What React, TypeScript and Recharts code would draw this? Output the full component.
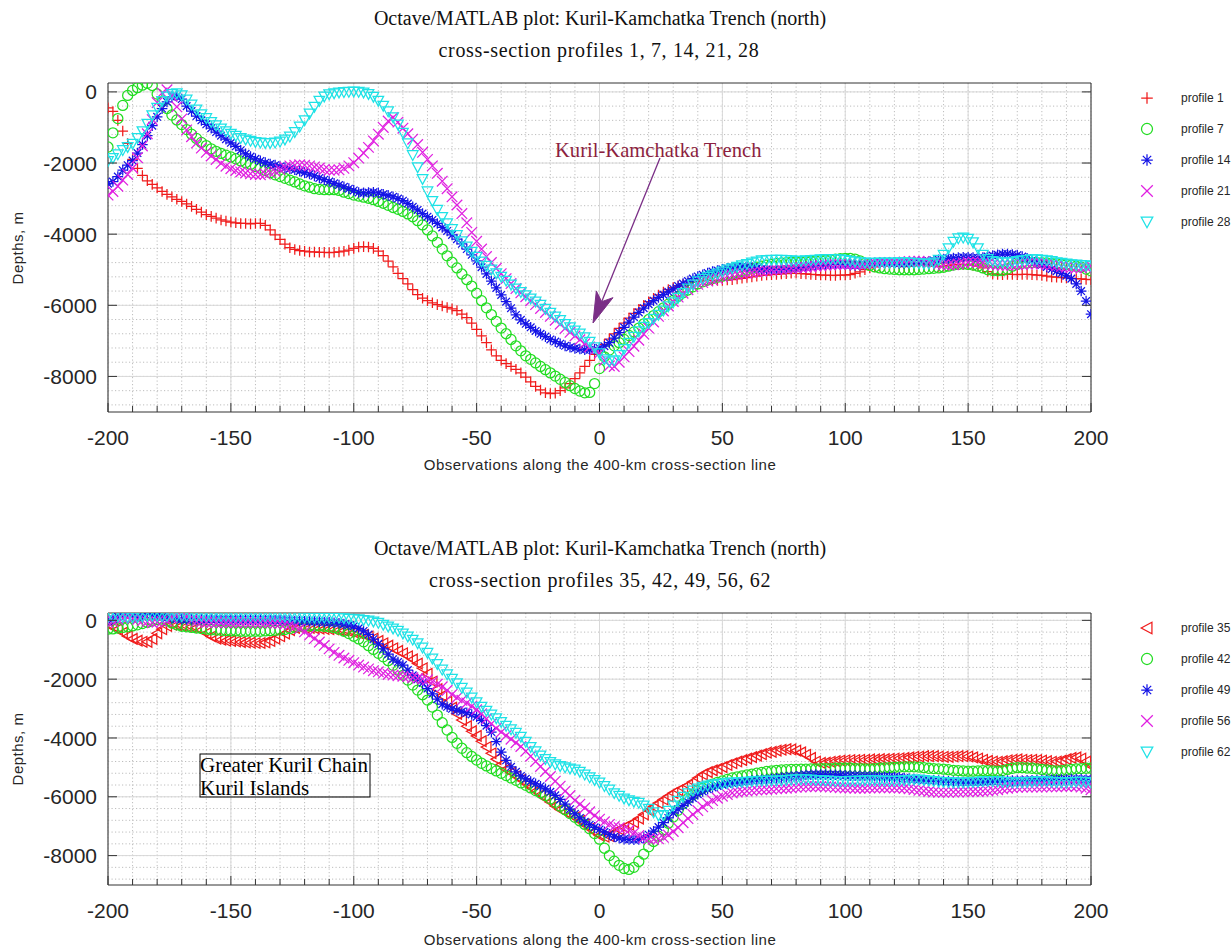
import React from 'react';
import { ScatterChart, Scatter, XAxis, YAxis, CartesianGrid } from 'recharts';

// observation points along the 400-km cross-section line, km
const distanceKm = [
  -200, -198, -196, -194, -192, -190, -188, -186, -184, -182,
  -180, -178, -176, -174, -172, -170, -168, -166, -164, -162,
  -160, -158, -156, -154, -152, -150, -148, -146, -144, -142,
  -140, -138, -136, -134, -132, -130, -128, -126, -124, -122,
  -120, -118, -116, -114, -112, -110, -108, -106, -104, -102,
  -100, -98, -96, -94, -92, -90, -88, -86, -84, -82,
  -80, -78, -76, -74, -72, -70, -68, -66, -64, -62,
  -60, -58, -56, -54, -52, -50, -48, -46, -44, -42,
  -40, -38, -36, -34, -32, -30, -28, -26, -24, -22,
  -20, -18, -16, -14, -12, -10, -8, -6, -4, -2,
  0, 2, 4, 6, 8, 10, 12, 14, 16, 18,
  20, 22, 24, 26, 28, 30, 32, 34, 36, 38,
  40, 42, 44, 46, 48, 50, 52, 54, 56, 58,
  60, 62, 64, 66, 68, 70, 72, 74, 76, 78,
  80, 82, 84, 86, 88, 90, 92, 94, 96, 98,
  100, 102, 104, 106, 108, 110, 112, 114, 116, 118,
  120, 122, 124, 126, 128, 130, 132, 134, 136, 138,
  140, 142, 144, 146, 148, 150, 152, 154, 156, 158,
  160, 162, 164, 166, 168, 170, 172, 174, 176, 178,
  180, 182, 184, 186, 188, 190, 192, 194, 196, 198,
  200,
];

// ---- upper panel: profiles 1, 7, 14, 21, 28 (depth, m)
const profile1 = [
  -450, -550, -800, -1100, -1450, -1900, -2150, -2350, -2500, -2600,
  -2700, -2800, -2880, -2950, -3020, -3080, -3150, -3220, -3300, -3380,
  -3450, -3500, -3550, -3600, -3630, -3660, -3680, -3700, -3700, -3710,
  -3700, -3700, -3750, -3880, -4020, -4150, -4280, -4380, -4430, -4460,
  -4480, -4500, -4500, -4510, -4510, -4520, -4510, -4500, -4480, -4450,
  -4400, -4360, -4350, -4360, -4400, -4480, -4600, -4760, -4920, -5100,
  -5250, -5400, -5560, -5700, -5800, -5870, -5930, -5980, -6020, -6060,
  -6100, -6150, -6250, -6350, -6500, -6680, -6860, -7050, -7250, -7420,
  -7550, -7640, -7720, -7800, -7900, -8020, -8150, -8280, -8380, -8460,
  -8480, -8470, -8400, -8320, -8200, -8060, -7900, -7720, -7550, -7380,
  -7250, -7100, -6950, -6800, -6650, -6500, -6360, -6230, -6110, -6000,
  -5900, -5800, -5710, -5630, -5560, -5500, -5450, -5410, -5380, -5350,
  -5330, -5310, -5300, -5300, -5300, -5300, -5290, -5280, -5260, -5240,
  -5220, -5200, -5180, -5160, -5150, -5140, -5130, -5120, -5110, -5100,
  -5100, -5110, -5120, -5130, -5140, -5150, -5150, -5160, -5160, -5150,
  -5150, -5140, -5100, -5060, -5000, -4950, -4920, -4900, -4890, -4880,
  -4890, -4900, -4910, -4900, -4890, -4880, -4880, -4890, -4900, -4910,
  -4900, -4880, -4860, -4850, -4850, -4860, -4880, -4900, -4950, -5050,
  -5120, -5130, -5140, -5130, -5130, -5140, -5130, -5130, -5140, -5150,
  -5160, -5180, -5200, -5210, -5220, -5230, -5240, -5250, -5260, -5270,
  -5280,
];
const profile7 = [
  -1550, -1150, -750, -380, -100, 40, 120, 190, 240, 180,
  -60, -270, -470, -650, -790, -920, -1060, -1190, -1310, -1420,
  -1510, -1600, -1670, -1730, -1780, -1830, -1880, -1940, -1990, -2040,
  -2100, -2150, -2210, -2270, -2330, -2380, -2430, -2480, -2530, -2590,
  -2640, -2680, -2720, -2740, -2750, -2750, -2750, -2770, -2820, -2860,
  -2900, -2930, -2960, -2990, -3030, -3080, -3130, -3190, -3250, -3300,
  -3360, -3430, -3510, -3620, -3740, -3880, -4050, -4230, -4420, -4610,
  -4790, -4950, -5120, -5280, -5460, -5660, -5870, -6070, -6260, -6450,
  -6640, -6800, -6960, -7140, -7280, -7420, -7520, -7620, -7720, -7810,
  -7900, -7990, -8080, -8170, -8260, -8340, -8410, -8460, -8450, -8200,
  -7780, -7450, -7260, -7140, -7050, -6960, -6850, -6750, -6640, -6520,
  -6400, -6290, -6180, -6070, -5970, -5860, -5750, -5650, -5570, -5480,
  -5400, -5340, -5290, -5250, -5210, -5180, -5150, -5120, -5080, -5040,
  -5000, -4960, -4930, -4900, -4870, -4850, -4830, -4810, -4800, -4790,
  -4780, -4780, -4770, -4760, -4750, -4740, -4730, -4720, -4700, -4690,
  -4680, -4680, -4700, -4750, -4820, -4880, -4920, -4950, -4970, -4980,
  -4990, -5000, -5000, -5000, -5000, -4990, -4980, -4970, -4960, -4950,
  -4930, -4900, -4870, -4850, -4840, -4850, -4870, -4900, -4950, -5000,
  -5020, -5030, -5020, -4980, -4900, -4850, -4820, -4810, -4800, -4800,
  -4800, -4810, -4820, -4830, -4840, -4850, -4870, -4900, -4930, -4980,
  -5030,
];
const profile14 = [
  -2580, -2520, -2380, -2200, -2060, -1930, -1720, -1480, -1230, -950,
  -700, -470, -280, -140, -120, -200, -400, -540, -680, -800,
  -910, -1020, -1130, -1230, -1330, -1430, -1530, -1640, -1740, -1820,
  -1880, -1940, -1990, -2030, -2060, -2100, -2130, -2160, -2190, -2230,
  -2270, -2310, -2360, -2420, -2470, -2520, -2570, -2620, -2670, -2720,
  -2770, -2830, -2840, -2830, -2820, -2840, -2880, -2910, -2950, -3000,
  -3060, -3140, -3230, -3320, -3420, -3510, -3600, -3700, -3810, -3910,
  -4020, -4140, -4270, -4420, -4580, -4750, -4930, -5120, -5320, -5510,
  -5710, -5900, -6080, -6270, -6410, -6520, -6620, -6720, -6800, -6880,
  -6960, -7020, -7080, -7140, -7180, -7210, -7230, -7250, -7250, -7240,
  -7200, -7150, -7050, -6920, -6770, -6620, -6470, -6330, -6200, -6080,
  -5970, -5870, -5780, -5700, -5620, -5540, -5460, -5390, -5320, -5250,
  -5190, -5140, -5090, -5050, -5020, -4990, -4960, -4930, -4910, -4910,
  -4920, -4940, -4960, -4980, -4990, -5000, -5000, -4990, -4980, -4970,
  -4960, -4940, -4920, -4900, -4880, -4870, -4860, -4850, -4850, -4850,
  -4860, -4870, -4880, -4870, -4850, -4830, -4810, -4800, -4800, -4800,
  -4810, -4820, -4820, -4810, -4800, -4790, -4780, -4760, -4740, -4720,
  -4700, -4680, -4670, -4660, -4650, -4650, -4660, -4670, -4660, -4630,
  -4600, -4580, -4560, -4560, -4570, -4590, -4630, -4680, -4740, -4800,
  -4860, -4920, -4980, -5040, -5100, -5170, -5250, -5400, -5600, -5880,
  -6250,
];
const profile21 = [
  -2900, -2800, -2650, -2480, -2320, -2140, -1850, -1520, -1180, -780,
  -300, -30, 60, -120, -420, -760, -1070, -1260, -1440, -1580,
  -1700, -1800, -1900, -2010, -2090, -2160, -2210, -2250, -2280, -2300,
  -2320, -2330, -2310, -2270, -2230, -2180, -2120, -2080, -2060, -2050,
  -2060, -2080, -2110, -2140, -2180, -2200, -2200, -2190, -2150, -2080,
  -1990, -1860, -1720, -1560, -1380, -1190, -1000, -820, -720, -850,
  -1020, -1180, -1330, -1480, -1700, -1900, -2080, -2290, -2510, -2720,
  -2950, -3180, -3420, -3680, -3950, -4200, -4420, -4630, -4800, -4960,
  -5110, -5250, -5390, -5530, -5650, -5760, -5870, -5980, -6090, -6200,
  -6310, -6420, -6530, -6650, -6760, -6860, -6970, -7080, -7170, -7260,
  -7340, -7550, -7700, -7720, -7600, -7450, -7300, -7150, -6980, -6810,
  -6640, -6470, -6310, -6160, -6020, -5890, -5770, -5660, -5560, -5480,
  -5410, -5360, -5320, -5290, -5250, -5200, -5170, -5150, -5130, -5110,
  -5100, -5080, -5060, -5050, -5030, -5010, -5000, -4990, -4980, -4960,
  -4950, -4940, -4930, -4920, -4900, -4890, -4880, -4870, -4860, -4850,
  -4850, -4850, -4850, -4850, -4840, -4830, -4820, -4810, -4800, -4800,
  -4800, -4790, -4780, -4770, -4760, -4760, -4770, -4790, -4810, -4840,
  -4860, -4870, -4860, -4840, -4810, -4790, -4780, -4790, -4810, -4840,
  -4860, -4870, -4880, -4880, -4870, -4860, -4850, -4840, -4830, -4830,
  -4840, -4850, -4870, -4890, -4910, -4930, -4940, -4950, -4950, -4930,
  -4900,
];
const profile28 = [
  -1950, -1860, -1760, -1640, -1550, -1460, -1300, -1110, -900, -660,
  -450, -260, -130, -60, -40, -100, -220, -360, -500, -630,
  -740, -850, -940, -1030, -1110, -1180, -1240, -1300, -1340, -1380,
  -1410, -1430, -1440, -1440, -1430, -1400, -1340, -1260, -1130, -980,
  -800, -610, -420, -250, -130, -70, -40, -20, -10, 0,
  10, 0, -20, -60, -140, -250, -390, -550, -720, -920,
  -1150, -1450, -1780, -2120, -2450, -2800, -3070, -3320, -3520, -3700,
  -3860, -4030, -4200, -4350, -4500, -4640, -4770, -4890, -5000, -5100,
  -5200, -5310, -5420, -5530, -5630, -5720, -5810, -5900, -5990, -6100,
  -6210, -6320, -6420, -6530, -6620, -6710, -6800, -6900, -7030, -7180,
  -7350, -7520, -7580, -7550, -7400, -7230, -7060, -6890, -6730, -6610,
  -6500, -6380, -6270, -6150, -6030, -5920, -5790, -5660, -5530, -5420,
  -5330, -5260, -5200, -5160, -5110, -5050, -5000, -4960, -4920, -4880,
  -4840, -4800, -4770, -4740, -4730, -4720, -4720, -4720, -4730, -4740,
  -4750, -4750, -4740, -4730, -4720, -4710, -4700, -4700, -4700, -4710,
  -4730, -4750, -4770, -4790, -4800, -4810, -4810, -4800, -4800, -4800,
  -4800, -4790, -4790, -4800, -4810, -4820, -4830, -4830, -4800, -4720,
  -4580, -4400, -4220, -4120, -4100, -4130, -4230, -4400, -4580, -4700,
  -4760, -4780, -4790, -4790, -4780, -4760, -4740, -4720, -4710, -4710,
  -4720, -4740, -4760, -4790, -4810, -4830, -4850, -4860, -4870, -4880,
  -4890,
];

// ---- lower panel: profiles 35, 42, 49, 56, 62 (depth, m)
const profile35 = [
  -150, -200, -300, -420, -540, -630, -690, -730, -730, -630,
  -440, -300, -190, -150, -160, -180, -200, -220, -250, -330,
  -440, -550, -620, -660, -690, -700, -720, -740, -750, -760,
  -770, -770, -750, -700, -620, -540, -450, -330, -260, -240,
  -250, -260, -270, -280, -290, -300, -310, -330, -350, -380,
  -410, -440, -490, -550, -620, -700, -780, -860, -950, -1040,
  -1120, -1220, -1330, -1470, -1630, -1820, -2080, -2340, -2560, -2770,
  -2970, -3180, -3390, -3600, -3770, -3930, -4110, -4310, -4520, -4720,
  -4900, -5060, -5180, -5300, -5420, -5550, -5680, -5810, -5930, -6060,
  -6180, -6310, -6430, -6520, -6610, -6700, -6820, -6950, -7080, -7200,
  -7320, -7360, -7340, -7220, -7110, -7030, -6950, -6870, -6740, -6600,
  -6460, -6330, -6210, -6090, -5980, -5870, -5780, -5700, -5610, -5490,
  -5360, -5240, -5160, -5100, -5050, -4990, -4920, -4860, -4800, -4750,
  -4700, -4650, -4600, -4550, -4500, -4470, -4430, -4400, -4380, -4390,
  -4430, -4490, -4570, -4680, -4800, -4850, -4840, -4810, -4790, -4770,
  -4760, -4750, -4750, -4740, -4740, -4730, -4730, -4720, -4720, -4710,
  -4700, -4690, -4680, -4660, -4640, -4630, -4620, -4620, -4620, -4630,
  -4640, -4640, -4630, -4620, -4620, -4630, -4660, -4700, -4740, -4780,
  -4800, -4810, -4790, -4760, -4740, -4730, -4740, -4750, -4740, -4750,
  -4770, -4790, -4810, -4800, -4770, -4720, -4680, -4660, -4700, -4800,
  -4950,
];
const profile42 = [
  -300, -290, -260, -240, -220, -190, -150, -110, -70, -20,
  30, 40, -20, -90, -150, -200, -220, -240, -260, -280,
  -300, -320, -330, -340, -350, -360, -360, -370, -370, -370,
  -370, -370, -360, -350, -340, -330, -310, -280, -240, -200,
  -190, -190, -190, -190, -200, -220, -250, -300, -370, -450,
  -540, -630, -730, -860, -990, -1120, -1240, -1370, -1530, -1700,
  -1870, -2030, -2200, -2370, -2530, -2710, -2950, -3220, -3480, -3730,
  -3980, -4180, -4350, -4500, -4630, -4750, -4860, -4950, -5040, -5120,
  -5200, -5280, -5360, -5440, -5530, -5610, -5700, -5790, -5870, -5960,
  -6070, -6190, -6320, -6440, -6570, -6700, -6820, -6940, -7090, -7250,
  -7440, -7750, -8000, -8190, -8330, -8440, -8470, -8400, -8200, -7950,
  -7700, -7520, -7340, -7120, -6900, -6690, -6460, -6240, -6060, -5930,
  -5800, -5710, -5640, -5570, -5510, -5460, -5410, -5360, -5320, -5290,
  -5260, -5230, -5200, -5170, -5140, -5120, -5100, -5090, -5080, -5070,
  -5070, -5060, -5060, -5050, -5050, -5040, -5040, -5040, -5030, -5030,
  -5030, -5030, -5040, -5040, -5050, -5050, -5040, -5030, -5020, -5010,
  -5000, -4990, -4980, -4980, -4980, -4990, -5010, -5030, -5040, -5050,
  -5060, -5080, -5100, -5110, -5120, -5130, -5130, -5120, -5110, -5110,
  -5120, -5130, -5110, -5070, -5030, -5010, -5010, -5020, -5030, -5050,
  -5070, -5090, -5110, -5120, -5110, -5090, -5070, -5050, -5040, -5030,
  -5030,
];
const profile49 = [
  -30, 50, 130, 200, 240, 180, 120, 180, 250, 200,
  140, 110, 90, 70, 50, 40, 30, 30, 30, 30,
  30, 30, 30, 20, 20, 20, 20, 20, 20, 20,
  20, 20, 10, 10, 0, 0, -10, -10, -20, -20,
  -30, -40, -40, -50, -60, -70, -80, -100, -130, -160,
  -200, -270, -360, -480, -640, -800, -970, -1150, -1320, -1420,
  -1520, -1690, -1870, -2000, -2130, -2320, -2500, -2680, -2850, -2940,
  -3010, -3060, -3100, -3140, -3200, -3280, -3400, -3580, -3800, -4120,
  -4480, -4760, -4980, -5150, -5290, -5390, -5480, -5560, -5640, -5730,
  -5830, -5950, -6090, -6250, -6420, -6580, -6720, -6850, -6950, -7040,
  -7110, -7190, -7280, -7360, -7410, -7440, -7450, -7460, -7450, -7390,
  -7290, -7170, -7030, -6880, -6720, -6550, -6420, -6290, -6170, -6040,
  -5910, -5820, -5740, -5680, -5630, -5590, -5560, -5530, -5510, -5490,
  -5470, -5450, -5430, -5420, -5410, -5390, -5370, -5350, -5330, -5310,
  -5300, -5280, -5260, -5250, -5240, -5240, -5240, -5250, -5250, -5260,
  -5270, -5280, -5280, -5290, -5290, -5300, -5300, -5310, -5320, -5320,
  -5330, -5340, -5360, -5380, -5400, -5420, -5430, -5440, -5440, -5450,
  -5460, -5470, -5480, -5490, -5500, -5500, -5500, -5500, -5490, -5480,
  -5470, -5460, -5460, -5450, -5450, -5450, -5450, -5440, -5440, -5430,
  -5430, -5420, -5420, -5410, -5410, -5410, -5400, -5400, -5400, -5410,
  -5420,
];
const profile56 = [
  -80, -40, 20, 70, 90, 60, 30, -10, -50, -80,
  -60, -40, -20, 80, 200, 260, 130, 0, -40, -60,
  -70, -80, -80, -80, -80, -80, -80, -80, -80, -80,
  -80, -80, -80, -90, -100, -110, -130, -160, -210, -290,
  -390, -500, -620, -740, -850, -970, -1090, -1190, -1280, -1360,
  -1440, -1520, -1590, -1650, -1710, -1750, -1800, -1840, -1860, -1880,
  -1900, -1920, -1950, -1970, -1990, -2020, -2090, -2170, -2260, -2380,
  -2520, -2630, -2720, -2810, -2920, -3040, -3180, -3350, -3520, -3670,
  -3800, -3920, -4040, -4160, -4290, -4450, -4620, -4800, -4970, -5140,
  -5310, -5470, -5640, -5810, -5960, -6120, -6250, -6380, -6510, -6640,
  -6760, -6850, -6940, -7010, -7050, -7090, -7140, -7230, -7320, -7390,
  -7430, -7450, -7430, -7380, -7300, -7180, -7050, -6880, -6740, -6600,
  -6470, -6340, -6230, -6130, -6050, -5980, -5920, -5870, -5840, -5820,
  -5800, -5790, -5770, -5760, -5750, -5740, -5730, -5720, -5710, -5700,
  -5680, -5670, -5660, -5660, -5650, -5650, -5660, -5670, -5680, -5690,
  -5700, -5700, -5710, -5710, -5710, -5700, -5700, -5690, -5690, -5690,
  -5700, -5700, -5710, -5730, -5750, -5780, -5800, -5820, -5840, -5850,
  -5850, -5850, -5840, -5840, -5830, -5830, -5820, -5820, -5810, -5800,
  -5780, -5760, -5730, -5710, -5690, -5680, -5670, -5670, -5670, -5670,
  -5670, -5660, -5660, -5660, -5650, -5650, -5640, -5650, -5670, -5710,
  -5760,
];
const profile62 = [
  120, 130, 130, 110, 100, 100, 110, 130, 140, 150,
  150, 140, 150, 160, 150, 140, 150, 150, 160, 150,
  150, 140, 150, 150, 160, 150, 140, 150, 150, 150,
  150, 140, 140, 150, 140, 140, 130, 130, 120, 110,
  100, 100, 90, 90, 90, 90, 90, 80, 70, 50,
  40, 30, 10, -10, -40, -90, -150, -210, -280, -360,
  -450, -550, -660, -780, -930, -1110, -1300, -1490, -1680, -1840,
  -1990, -2140, -2300, -2460, -2630, -2790, -2940, -3080, -3210, -3330,
  -3460, -3590, -3710, -3830, -3960, -4130, -4310, -4460, -4600, -4720,
  -4820, -4900, -4960, -5000, -5040, -5080, -5150, -5250, -5340, -5430,
  -5520, -5640, -5760, -5880, -5970, -6060, -6120, -6170, -6210, -6300,
  -6410, -6530, -6640, -6620, -6480, -6300, -6140, -6000, -5880, -5790,
  -5720, -5660, -5620, -5590, -5570, -5550, -5530, -5520, -5510, -5500,
  -5490, -5480, -5470, -5460, -5460, -5450, -5450, -5440, -5430, -5420,
  -5410, -5410, -5410, -5420, -5430, -5440, -5450, -5460, -5470, -5470,
  -5470, -5460, -5460, -5450, -5440, -5440, -5440, -5450, -5450, -5460,
  -5460, -5450, -5440, -5430, -5420, -5420, -5430, -5450, -5470, -5490,
  -5500, -5510, -5520, -5520, -5520, -5510, -5500, -5490, -5480, -5470,
  -5470, -5480, -5490, -5500, -5510, -5510, -5510, -5500, -5490, -5480,
  -5480, -5480, -5490, -5500, -5510, -5510, -5500, -5490, -5490, -5500,
  -5520,
];

// ---- axes
const xMajorTicks = [-200, -150, -100, -50, 0, 50, 100, 150, 200];
const xMinorTicks = [
  -200, -190, -180, -170, -160, -150, -140, -130, -120, -110, -100,
  -90, -80, -70, -60, -50, -40, -30, -20, -10, 0,
  10, 20, 30, 40, 50, 60, 70, 80, 90, 100,
  110, 120, 130, 140, 150, 160, 170, 180, 190, 200,
];
const yMajorTicks = [0, -2000, -4000, -6000, -8000];
const yMinorTicks = [
  0, -400, -800, -1200, -1600, -2000, -2400, -2800, -3200, -3600, -4000, -4400,
  -4800, -5200, -5600, -6000, -6400, -6800, -7200, -7600, -8000, -8400, -8800,
];
const xDomain = [-200, 200];
const yDomain = [-9000, 250];

const SANS = '"Liberation Sans", Arial, Helvetica, sans-serif';
const SERIF = '"Liberation Serif", "Times New Roman", Times, serif';
const FRAME = '#333333';
const INK = '#262626';

const RED = '#f01c1c';
const GREEN = '#22dd22';
const BLUE = '#1414e6';
const MAGENTA = '#e020e0';
const CYAN = '#1ee2e6';

type MarkerKind = 'plus' | 'circle' | 'star' | 'cross' | 'triDown' | 'triLeft';

type SeriesDef = { name: string; depths: number[]; kind: MarkerKind; color: string };

const upperSeries: SeriesDef[] = [
  { name: 'profile 1', depths: profile1, kind: 'plus', color: RED },
  { name: 'profile 7', depths: profile7, kind: 'circle', color: GREEN },
  { name: 'profile 14', depths: profile14, kind: 'star', color: BLUE },
  { name: 'profile 21', depths: profile21, kind: 'cross', color: MAGENTA },
  { name: 'profile 28', depths: profile28, kind: 'triDown', color: CYAN },
];

const lowerSeries: SeriesDef[] = [
  { name: 'profile 35', depths: profile35, kind: 'triLeft', color: RED },
  { name: 'profile 42', depths: profile42, kind: 'circle', color: GREEN },
  { name: 'profile 49', depths: profile49, kind: 'star', color: BLUE },
  { name: 'profile 56', depths: profile56, kind: 'cross', color: MAGENTA },
  { name: 'profile 62', depths: profile62, kind: 'triDown', color: CYAN },
];

const toPoints = (depths: number[]) => distanceKm.map((x, i) => ({ x, y: depths[i] }));

function Marker({ cx, cy, kind, color, s = 5.3 }: { cx: number; cy: number; kind: MarkerKind; color: string; s?: number }) {
  const common = { stroke: color, strokeWidth: 1.25, fill: 'none' };
  if (cx == null || cy == null) return null;
  switch (kind) {
    case 'plus':
      return <path d={`M${cx - s},${cy}H${cx + s}M${cx},${cy - s}V${cy + s}`} {...common} />;
    case 'circle':
      return <circle cx={cx} cy={cy} r={s * 0.95} {...common} />;
    case 'cross':
      return <path d={`M${cx - s},${cy - s}L${cx + s},${cy + s}M${cx - s},${cy + s}L${cx + s},${cy - s}`} {...common} />;
    case 'star': {
      const d = s * 0.72;
      return (
        <path
          d={`M${cx - s},${cy}H${cx + s}M${cx},${cy - s}V${cy + s}M${cx - d},${cy - d}L${cx + d},${cy + d}M${cx - d},${cy + d}L${cx + d},${cy - d}`}
          {...common}
        />
      );
    }
    case 'triDown':
      return <polygon points={`${cx - s},${cy - s * 0.85} ${cx + s},${cy - s * 0.85} ${cx},${cy + s}`} {...common} />;
    case 'triLeft':
      return <polygon points={`${cx - s},${cy} ${cx + s * 0.85},${cy - s} ${cx + s * 0.85},${cy + s}`} {...common} />;
    default:
      return null;
  }
}

const isMajorX = (v: number) => xMajorTicks.includes(v);

// ticks point inward, Octave style; axes are 1px thick so tick coords sit on the frame
function BottomTick(props: any) {
  const { x, y, payload } = props;
  const major = isMajorX(payload.value);
  return (
    <g>
      <line x1={x} x2={x} y1={y} y2={y - (major ? 9 : 6)} stroke={FRAME} />
      {major && (
        <text x={x} y={y + 33} textAnchor="middle" fontSize={21} fontFamily={SANS} fill={INK}>
          {payload.value}
        </text>
      )}
    </g>
  );
}

function TopTick(props: any) {
  const { x, y, payload } = props;
  const major = isMajorX(payload.value);
  return <line x1={x} x2={x} y1={y} y2={y + (major ? 9 : 6)} stroke={FRAME} />;
}

function LeftTick(props: any) {
  const { x, y, payload } = props;
  return (
    <g>
      <line x1={x} x2={x + 9} y1={y} y2={y} stroke={FRAME} />
      <text x={x - 11} y={y} dy="0.36em" textAnchor="end" fontSize={21} fontFamily={SANS} fill={INK}>
        {payload.value}
      </text>
    </g>
  );
}

function RightTick(props: any) {
  const { x, y } = props;
  return <line x1={x} x2={x - 9} y1={y} y2={y} stroke={FRAME} />;
}

function Panel({ series, marginTop, marginBottom }: { series: SeriesDef[]; marginTop: number; marginBottom: number }) {
  return (
    <ScatterChart width={1231} height={474} margin={{ top: marginTop, right: 139, bottom: marginBottom, left: 107 }}>
      <CartesianGrid
        xAxisId="bottom"
        yAxisId="left"
        verticalValues={xMinorTicks}
        horizontalValues={yMinorTicks}
        stroke="#bdbdbd"
        strokeDasharray="1.2 2.3"
      />
      <CartesianGrid
        xAxisId="bottom"
        yAxisId="left"
        verticalValues={xMajorTicks}
        horizontalValues={yMajorTicks}
        stroke="#d9d9d9"
      />
      <XAxis
        xAxisId="bottom"
        dataKey="x"
        type="number"
        domain={xDomain}
        allowDataOverflow
        ticks={xMinorTicks}
        interval={0}
        height={1}
        tickSize={0}
        tickMargin={0}
        tickLine={false}
        axisLine={{ stroke: FRAME }}
        tick={BottomTick}
      />
      <XAxis
        xAxisId="top"
        orientation="top"
        type="number"
        domain={xDomain}
        allowDataOverflow
        ticks={xMinorTicks}
        interval={0}
        height={1}
        tickSize={0}
        tickMargin={0}
        tickLine={false}
        axisLine={{ stroke: FRAME }}
        tick={TopTick}
      />
      <YAxis
        yAxisId="left"
        dataKey="y"
        type="number"
        domain={yDomain}
        allowDataOverflow
        ticks={yMajorTicks}
        interval={0}
        width={1}
        tickSize={0}
        tickMargin={0}
        tickLine={false}
        axisLine={{ stroke: FRAME }}
        tick={LeftTick}
      />
      <YAxis
        yAxisId="right"
        orientation="right"
        type="number"
        domain={yDomain}
        allowDataOverflow
        ticks={yMajorTicks}
        interval={0}
        width={1}
        tickSize={0}
        tickMargin={0}
        tickLine={false}
        axisLine={{ stroke: FRAME }}
        tick={RightTick}
      />
      {series.map((s) => (
        <Scatter
          key={s.name}
          name={s.name}
          data={toPoints(s.depths)}
          xAxisId="bottom"
          yAxisId="left"
          isAnimationActive={false}
          shape={(p: any) => <Marker cx={p.cx} cy={p.cy} kind={s.kind} color={s.color} />}
        />
      ))}
    </ScatterChart>
  );
}

function LegendBlock({ series, top }: { series: SeriesDef[]; top: number }) {
  return (
    <g>
      {series.map((s, i) => (
        <g key={s.name}>
          <Marker cx={1147} cy={top + i * 31} kind={s.kind} color={s.color} s={5.8} />
          <text x={1181} y={top + i * 31} dy="0.36em" fontSize={12} fontFamily={SANS} fill={INK}>
            {s.name}
          </text>
        </g>
      ))}
    </g>
  );
}

function Overlay() {
  // annotation arrow in the upper panel
  const tip = { x: 593, y: 323 };
  const start = { x: 660, y: 158 };
  const len = Math.hypot(tip.x - start.x, tip.y - start.y);
  const u = { x: (tip.x - start.x) / len, y: (tip.y - start.y) / len };
  const n = { x: -u.y, y: u.x };
  const base = { x: tip.x - 31 * u.x, y: tip.y - 31 * u.y };
  const notch = { x: tip.x - 23 * u.x, y: tip.y - 23 * u.y };
  const head = `${tip.x},${tip.y} ${base.x + 9 * n.x},${base.y + 9 * n.y} ${notch.x},${notch.y} ${base.x - 9 * n.x},${base.y - 9 * n.y}`;

  return (
    <svg width={1231} height={948} style={{ position: 'absolute', left: 0, top: 0, pointerEvents: 'none' }}>
      <g fontFamily={SERIF} fontSize={20} fill="#111" textAnchor="middle">
        <text x={600} y={25}>Octave/MATLAB plot: Kuril-Kamchatka Trench (north)</text>
        <text x={599} y={57} letterSpacing={0.65}>cross-section profiles 1, 7, 14, 21, 28</text>
        <text x={600} y={555}>Octave/MATLAB plot: Kuril-Kamchatka Trench (north)</text>
        <text x={600} y={587} letterSpacing={0.65}>cross-section profiles 35, 42, 49, 56, 62</text>
      </g>
      <g fontFamily={SANS} fontSize={15} fill={INK} textAnchor="middle" letterSpacing={0.5}>
        <text x={600} y={465} dy="0.35em">Observations along the 400-km cross-section line</text>
        <text x={600} y={940} dy="0.35em">Observations along the 400-km cross-section line</text>
        <text transform="translate(18,248) rotate(-90)" dy="0.35em">Depths, m</text>
        <text transform="translate(18,749) rotate(-90)" dy="0.35em">Depths, m</text>
      </g>

      <LegendBlock series={upperSeries} top={98} />
      <LegendBlock series={lowerSeries} top={628} />

      <line x1={start.x} y1={start.y} x2={notch.x} y2={notch.y} stroke="#7a2e86" strokeWidth={1.3} />
      <polygon points={head} fill="#7a2e86" stroke="#7a2e86" strokeWidth={1} />
      <text x={555} y={157} fontFamily={SERIF} fontSize={20.6} fill="#8c1f40">
        Kuril-Kamchatka Trench
      </text>

      <rect x={200} y={754} width={170} height={43} fill="none" stroke="#000" strokeWidth={1} />
      <text x={200} y={772} fontFamily={SERIF} fontSize={21} fill="#000">
        Greater Kuril Chain
      </text>
      <text x={200} y={795} fontFamily={SERIF} fontSize={21} fill="#000">
        Kuril Islands
      </text>
    </svg>
  );
}

export default function App() {
  return (
    <div style={{ position: 'absolute', left: 0, top: 0, width: 1231, height: 948, background: '#fff', overflow: 'hidden' }}>
      <div style={{ position: 'absolute', left: 0, top: 0 }}>
        <Panel series={upperSeries} marginTop={82} marginBottom={61} />
      </div>
      <div style={{ position: 'absolute', left: 0, top: 474 }}>
        <Panel series={lowerSeries} marginTop={138} marginBottom={62} />
      </div>
      <Overlay />
    </div>
  );
}
